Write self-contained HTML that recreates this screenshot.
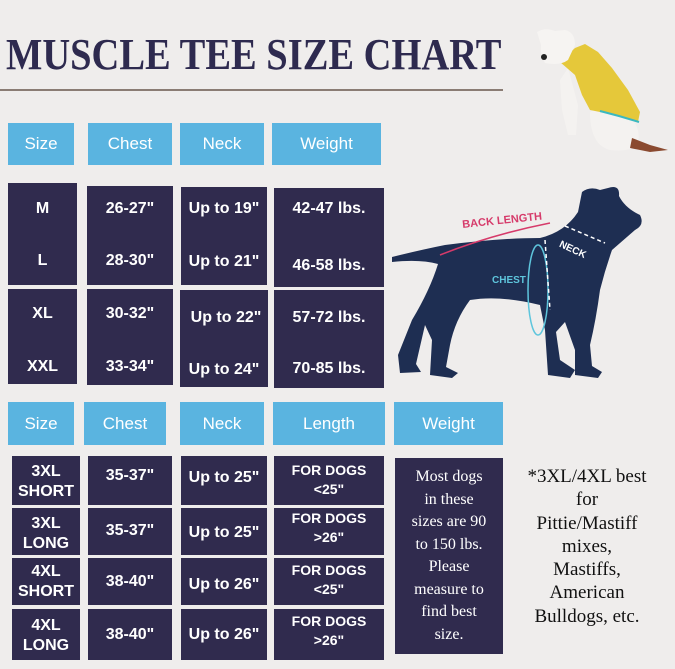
<!DOCTYPE html>
<html><head><style>
body{margin:0;width:675px;height:669px;background:#efedec;position:relative;overflow:hidden;font-family:"Liberation Sans",sans-serif}
.b{position:absolute;display:flex;align-items:center;justify-content:center;text-align:center;color:#fff}
.h{background:#5ab4e0;font-size:17px}
.d{background:#302b4e;font-weight:bold;font-size:16px}
.t{position:absolute;color:#fff;font-weight:bold;font-size:16px;text-align:center;line-height:20px}
</style></head><body>
<div style="position:absolute;left:6px;top:29px;font-family:'Liberation Serif',serif;font-weight:bold;font-size:44px;color:#2e2a4f;transform:scaleX(0.875);transform-origin:0 0;white-space:nowrap">MUSCLE TEE SIZE CHART</div>
<div style="position:absolute;left:0;top:89px;width:503px;height:2px;background:#8a7c74"></div>

<div class="b h" style="left:8px;top:123px;width:66px;height:42px">Size</div>
<div class="b h" style="left:88px;top:123px;width:84px;height:42px">Chest</div>
<div class="b h" style="left:180px;top:123px;width:84px;height:42px">Neck</div>
<div class="b h" style="left:272px;top:123px;width:109px;height:42px">Weight</div>

<div class="b d" style="left:8px;top:183px;width:69px;height:102px"></div>
<div class="b d" style="left:87px;top:186px;width:86px;height:99px"></div>
<div class="b d" style="left:181px;top:187px;width:86px;height:98px"></div>
<div class="b d" style="left:274px;top:188px;width:110px;height:99px"></div>
<div class="b d" style="left:8px;top:289px;width:69px;height:95px"></div>
<div class="b d" style="left:87px;top:289px;width:86px;height:96px"></div>
<div class="b d" style="left:180px;top:290px;width:88px;height:97px"></div>
<div class="b d" style="left:274px;top:290px;width:110px;height:98px"></div>

<div class="t" style="left:8px;top:199px;width:69px">M</div>
<div class="t" style="left:8px;top:251px;width:69px">L</div>
<div class="t" style="left:8px;top:304px;width:69px">XL</div>
<div class="t" style="left:8px;top:357px;width:69px">XXL</div>
<div class="t" style="left:87px;top:199px;width:86px">26-27"</div>
<div class="t" style="left:87px;top:251px;width:86px">28-30"</div>
<div class="t" style="left:87px;top:304px;width:86px">30-32"</div>
<div class="t" style="left:87px;top:357px;width:86px">33-34"</div>
<div class="t" style="left:181px;top:199px;width:86px">Up to 19"</div>
<div class="t" style="left:181px;top:252px;width:86px">Up to 21"</div>
<div class="t" style="left:183px;top:308px;width:86px">Up to 22"</div>
<div class="t" style="left:181px;top:360px;width:86px">Up to 24"</div>
<div class="t" style="left:274px;top:199px;width:110px">42-47 lbs.</div>
<div class="t" style="left:274px;top:256px;width:110px">46-58 lbs.</div>
<div class="t" style="left:274px;top:308px;width:110px">57-72 lbs.</div>
<div class="t" style="left:274px;top:359px;width:110px">70-85 lbs.</div>

<div class="b h" style="left:8px;top:402px;width:66px;height:43px">Size</div>
<div class="b h" style="left:84px;top:402px;width:82px;height:43px">Chest</div>
<div class="b h" style="left:180px;top:402px;width:84px;height:43px">Neck</div>
<div class="b h" style="left:273px;top:402px;width:112px;height:43px">Length</div>
<div class="b h" style="left:394px;top:402px;width:109px;height:43px">Weight</div>

<div class="b d" style="left:12px;top:456px;width:68px;height:49px"></div>
<div class="b d" style="left:12px;top:508px;width:68px;height:47px"></div>
<div class="b d" style="left:12px;top:558px;width:68px;height:47px"></div>
<div class="b d" style="left:12px;top:609px;width:68px;height:51px"></div>
<div class="b d" style="left:88px;top:456px;width:84px;height:49px"></div>
<div class="b d" style="left:88px;top:508px;width:84px;height:47px"></div>
<div class="b d" style="left:88px;top:558px;width:84px;height:47px"></div>
<div class="b d" style="left:88px;top:609px;width:84px;height:51px"></div>
<div class="b d" style="left:181px;top:456px;width:86px;height:49px"></div>
<div class="b d" style="left:181px;top:508px;width:86px;height:47px"></div>
<div class="b d" style="left:181px;top:558px;width:86px;height:47px"></div>
<div class="b d" style="left:181px;top:609px;width:86px;height:51px"></div>
<div class="b d" style="left:274px;top:456px;width:110px;height:49px"></div>
<div class="b d" style="left:274px;top:508px;width:110px;height:47px"></div>
<div class="b d" style="left:274px;top:558px;width:110px;height:47px"></div>
<div class="b d" style="left:274px;top:609px;width:110px;height:51px"></div>
<div class="b d" style="left:395px;top:458px;width:108px;height:196px"></div>

<div class="t" style="left:12px;top:462px;width:68px">3XL<br>SHORT</div>
<div class="t" style="left:12px;top:514px;width:68px">3XL<br>LONG</div>
<div class="t" style="left:12px;top:562px;width:68px">4XL<br>SHORT</div>
<div class="t" style="left:12px;top:616px;width:68px">4XL<br>LONG</div>
<div class="t" style="left:88px;top:466px;width:84px">35-37"</div>
<div class="t" style="left:88px;top:521px;width:84px">35-37"</div>
<div class="t" style="left:88px;top:572px;width:84px">38-40"</div>
<div class="t" style="left:88px;top:625px;width:84px">38-40"</div>
<div class="t" style="left:181px;top:468px;width:86px">Up to 25"</div>
<div class="t" style="left:181px;top:523px;width:86px">Up to 25"</div>
<div class="t" style="left:181px;top:575px;width:86px">Up to 26"</div>
<div class="t" style="left:181px;top:625px;width:86px">Up to 26"</div>
<div class="t" style="left:274px;top:461px;width:110px;font-size:14px;line-height:19px">FOR DOGS<br>&lt;25"</div>
<div class="t" style="left:274px;top:509px;width:110px;font-size:14px;line-height:19px">FOR DOGS<br>&gt;26"</div>
<div class="t" style="left:274px;top:561px;width:110px;font-size:14px;line-height:19px">FOR DOGS<br>&lt;25"</div>
<div class="t" style="left:274px;top:612px;width:110px;font-size:14px;line-height:19px">FOR DOGS<br>&gt;26"</div>
<div class="t" style="left:395px;top:466px;width:108px;font-family:'Liberation Serif',serif;font-weight:normal;font-size:16px;line-height:22.5px">Most dogs<br>in these<br>sizes are 90<br>to 150 lbs.<br>Please<br>measure to<br>find best<br>size.</div>

<div style="position:absolute;left:512px;top:465px;width:150px;text-align:center;font-family:'Liberation Serif',serif;font-size:19px;line-height:23.3px;color:#111">*3XL/4XL best<br>for<br>Pittie/Mastiff<br>mixes,<br>Mastiffs,<br>American<br>Bulldogs, etc.</div>

<svg style="position:absolute;left:0;top:0" width="675" height="669">
<path fill="#1e2e52" d="M392,257 Q420,250 445,245 Q500,238 540,238 Q565,232 578,212 L582,192 Q590,186 600,190 L608,188 Q620,184 619,196 Q625,208 640,215 Q645,225 635,230 L612,250 Q605,270 600,290 Q596,320 590,345 L592,366 L602,372 L598,378 L575,375 L575,350 L565,322 L556,332 L560,360 L575,370 L570,378 L548,375 L545,330 L540,305 Q500,295 470,300 Q455,320 450,345 L446,367 L458,373 L452,378 L430,375 L432,340 L425,325 L416,364 L421,372 L400,373 L398,355 L412,320 Q430,290 438,264 Q420,259 392,262 Z"/>
<path d="M440,255 Q490,235 550,223" fill="none" stroke="#d63a6a" stroke-width="1.5"/>
<text x="462" y="224" font-size="11" font-weight="bold" fill="#d63a6a" transform="rotate(-6 500 220)" font-family="Liberation Sans">BACK LENGTH</text>
<text x="492" y="283" font-size="10" font-weight="bold" fill="#5ec5dc" font-family="Liberation Sans">CHEST</text>
<text x="556" y="252" font-size="10" font-weight="bold" fill="#fff" transform="rotate(25 570 255)" font-family="Liberation Sans">NECK</text>
<ellipse cx="538" cy="290" rx="10" ry="45" fill="none" stroke="#5ec5dc" stroke-width="1.5"/>
<path d="M545,240 L550,310" stroke="#fff" stroke-dasharray="4 3" stroke-width="1.5"/>
<path d="M565,226 L605,243" stroke="#fff" stroke-dasharray="4 3" stroke-width="1.5"/>
<!-- top dog photo -->
<path fill="#f4f2f0" d="M568,68 L560,80 L562,110 L568,135 L576,135 L578,105 Z"/>
<path fill="#f4f2f0" d="M590,112 Q600,105 625,112 Q642,125 638,145 Q630,152 610,150 Q590,145 590,112 Z"/>
<path fill="#8a4a30" d="M632,138 L650,145 L668,150 L650,152 L630,148 Z"/>
<path fill="#e5c83a" d="M560,62 L575,48 L585,44 L598,52 L612,68 L628,90 L640,112 L638,122 L620,116 L600,112 L590,110 L582,95 L575,75 Z"/>
<path fill="none" stroke="#3ab8c0" stroke-width="2" d="M600,111 Q620,116 639,122"/>
<path fill="#f6f4f2" d="M537,32 Q545,27 555,31 L565,30 Q575,32 575,45 L568,60 Q560,66 545,63 Q540,55 541,45 Z"/>
<circle cx="544" cy="57" r="3" fill="#222"/>
</svg>
</body></html>
